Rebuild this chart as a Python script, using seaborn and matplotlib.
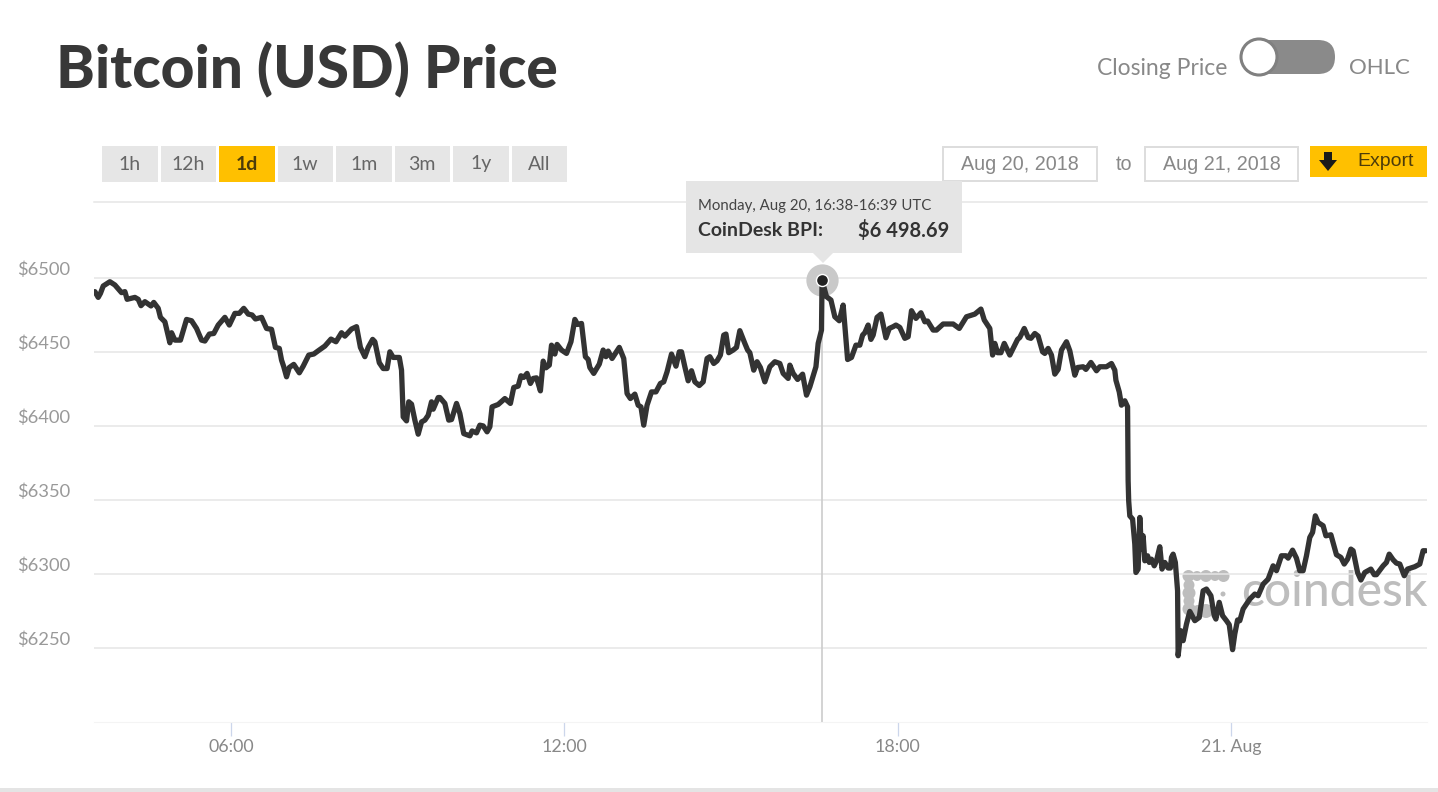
import matplotlib
matplotlib.use("Agg")
import matplotlib.pyplot as plt
from matplotlib.patches import Rectangle, Circle, FancyBboxPatch, Polygon
import seaborn as sns

# time is hours since 20 Aug 00:00 UTC, price is USD
hours_night = [3.55, 3.61, 3.65, 3.70, 3.82, 3.91, 4.03, 4.09, 4.13, 4.27, 4.33, 4.38, 4.45, 4.56, 4.61, 4.69,
               4.73, 4.81, 4.90, 4.93, 4.99, 5.09, 5.20, 5.29, 5.38, 5.47, 5.53, 5.61, 5.69, 5.77, 5.89, 5.97,
               6.07, 6.15, 6.23, 6.31, 6.38, 6.44, 6.55, 6.64, 6.73, 6.80, 6.87, 6.91, 6.95, 7.00, 7.05, 7.13,
               7.23, 7.30, 7.40, 7.49, 7.57, 7.69, 7.80, 7.89, 7.99, 8.05, 8.17, 8.26, 8.33, 8.41, 8.47, 8.55,
               8.59, 8.67, 8.74, 8.81, 8.86, 8.92, 9.03, 9.07, 9.10, 9.16, 9.20, 9.25, 9.31, 9.37, 9.43, 9.49,
               9.55, 9.61, 9.64, 9.73]
price_night = [6491, 6487.1, 6489.8, 6494.8, 6497.7, 6495.5, 6490.3, 6491, 6485.8, 6487.1, 6485.8, 6481.5, 6484.2,
               6481.3, 6483.7, 6479.7, 6473.6, 6470.6, 6456.4, 6463.2, 6458.2, 6458.2, 6472.2, 6471.3, 6466.1,
               6458.2, 6457.6, 6462.3, 6462.7, 6468.4, 6473.6, 6468.4, 6476.3, 6476.3, 6479.7, 6475.8, 6475.2,
               6472.5, 6473.6, 6466.1, 6465.5, 6453.3, 6452.6, 6444.7, 6440.2, 6433.4, 6439.7, 6441.8, 6436.1,
               6440.6, 6448.1, 6448.8, 6451, 6454.2, 6458.9, 6457.1, 6463.2, 6460.9, 6465.7, 6467.3, 6453.3, 6447,
               6453.3, 6458.7, 6457.1, 6442.9, 6439, 6439, 6450.3, 6446.5, 6446.5, 6437.9, 6406.3, 6403.6, 6416.5,
               6414.9, 6404.1, 6394.6, 6402.9, 6404.1, 6407.4, 6416.5, 6411.5, 6419.4]

hours_day = [9.76, 9.85, 9.92, 9.97, 10.06, 10.12, 10.19, 10.30, 10.34, 10.42, 10.48, 10.54, 10.61, 10.66, 10.70,
             10.81, 10.93, 11.03, 11.09, 11.17, 11.22, 11.27, 11.33, 11.39, 11.44, 11.50, 11.57, 11.62, 11.67, 11.73,
             11.77, 11.83, 11.87, 11.95, 12.04, 12.12, 12.19, 12.24, 12.31, 12.38, 12.43, 12.46, 12.53, 12.63, 12.70,
             12.75, 12.79, 12.86, 12.99, 13.07, 13.13, 13.19, 13.27, 13.33, 13.38, 13.43, 13.49, 13.57, 13.65, 13.73,
             13.79, 13.85, 13.93, 14.01, 14.07, 14.11, 14.17, 14.23, 14.29, 14.35, 14.43, 14.50, 14.57, 14.62, 14.69,
             14.75, 14.81, 14.87, 14.91, 14.96, 15.04, 15.10, 15.16, 15.25, 15.30, 15.34, 15.41, 15.47, 15.53, 15.61,
             15.70, 15.79, 15.88, 15.94, 16.03]
price_day = [6419.4, 6415.4, 6404.1, 6404.5, 6415.4, 6408.6, 6395, 6393.5, 6396.8, 6395.5, 6400.7, 6400.2, 6396.2,
             6399.6, 6413.1, 6414.7, 6418.7, 6415.4, 6426.2, 6427.1, 6434.1, 6433, 6435.7, 6428.9, 6432.3, 6432.7,
             6423.9, 6444, 6439.5, 6441.3, 6454.8, 6448.8, 6455.3, 6451.5, 6449.2, 6457.1, 6472.2, 6468.8, 6469.5,
             6447, 6445.1, 6439.7, 6435.7, 6442, 6451.5, 6447, 6450.8, 6445.8, 6453.3, 6445.8, 6422.1, 6418.7, 6421.7,
             6414.2, 6413.1, 6400.7, 6414.2, 6423.2, 6423.2, 6428.9, 6430, 6436.8, 6448.8, 6440.6, 6450.3, 6450.3,
             6440.2, 6430.7, 6437.5, 6430, 6427.5, 6430, 6445.8, 6447, 6442.4, 6444.2, 6448.1, 6461.6, 6462.3, 6449.7,
             6451.5, 6453.3, 6464.6, 6456, 6451.5, 6449.7, 6437.9, 6443.6, 6439.7, 6430, 6440.2, 6443.6, 6442.4,
             6435.7, 6432.3]

hours_evening = [16.06, 16.12, 16.20, 16.29, 16.36, 16.42, 16.53, 16.57, 16.63, 16.64, 16.72, 16.80, 16.87, 16.95,
                 17.02, 17.10, 17.17, 17.25, 17.32, 17.37, 17.41, 17.47, 17.52, 17.56, 17.63, 17.70, 17.79, 17.85,
                 17.92, 17.97, 18.04, 18.13, 18.19, 18.25, 18.33, 18.42, 18.49, 18.54, 18.64, 18.70, 18.82, 19.00,
                 19.11, 19.24, 19.39, 19.50, 19.56, 19.66, 19.71, 19.75, 19.80, 19.86, 19.92, 20.02, 20.10, 20.16,
                 20.20, 20.28, 20.35, 20.40, 20.47, 20.53, 20.61, 20.65, 20.71, 20.77, 20.83, 20.89, 20.95, 21.04,
                 21.10, 21.19, 21.24, 21.34, 21.39, 21.48, 21.58, 21.64, 21.76, 21.85, 21.91, 21.93, 21.99, 22.03,
                 22.09, 22.14]
price_evening = [6441.3, 6435.7, 6431.6, 6435.2, 6421, 6426.6, 6440.2, 6456, 6465, 6498.69, 6487.6, 6485.3, 6474,
                 6471.3, 6481.9, 6445.1, 6446.5, 6454.8, 6454.8, 6461.6, 6463.2, 6468.4, 6458.7, 6461.6, 6473.6,
                 6475.8, 6459.8, 6466.1, 6467.3, 6468.4, 6466.8, 6459.4, 6460.5, 6478.1, 6472.9, 6476.7, 6470.6,
                 6471.1, 6465, 6465, 6469.1, 6469.1, 6466.1, 6474, 6475.8, 6479.2, 6471.8, 6466.1, 6448.1, 6456,
                 6449.7, 6449.7, 6456, 6448.1, 6454.2, 6458.7, 6460, 6466.1, 6460, 6459.4, 6462.7, 6460.9, 6450.3,
                 6449.2, 6452.6, 6448.1, 6435.2, 6438.4, 6451.5, 6457.1, 6451, 6434.5, 6439.7, 6440.2, 6438.4,
                 6443.1, 6437.5, 6440.2, 6440.2, 6442.4, 6437.9, 6431.1, 6423.2, 6414.2, 6417.2, 6413.1]

hours_late = [22.15, 22.16, 22.18, 22.23, 22.27, 22.29, 22.33, 22.36, 22.39, 22.42, 22.45, 22.50, 22.53, 22.57, 22.62,
              22.66, 22.72, 22.76, 22.81, 22.87, 22.91, 22.93, 22.96, 23.00, 23.04, 23.05, 23.10, 23.14, 23.20, 23.26,
              23.35, 23.43, 23.50, 23.56, 23.64, 23.70, 23.73, 23.79, 23.85, 23.92, 23.97, 24.03, 24.07, 24.12, 24.16,
              24.22, 24.34, 24.43, 24.49, 24.58, 24.67, 24.76, 24.82, 24.91, 24.99, 25.03, 25.11, 25.18, 25.24, 25.30,
              25.36, 25.42, 25.47, 25.52, 25.57, 25.66, 25.71, 25.80, 25.90, 25.98, 26.04, 26.10, 26.16, 26.20, 26.28,
              26.34, 26.41, 26.52, 26.58, 26.62, 26.74, 26.80, 26.85, 26.92, 26.98, 27.04, 27.12, 27.18, 27.31, 27.40,
              27.46, 27.51]
price_late = [6363.1, 6349.5, 6339.4, 6337.2, 6320.3, 6301.1, 6303.4, 6338.3, 6316.9, 6325.9, 6309, 6312.4, 6307.9,
              6310.1, 6305.6, 6309, 6318.5, 6303.4, 6307.9, 6304.1, 6304.1, 6311.3, 6313.5, 6307.9, 6288.7, 6244.8,
              6261.7, 6255, 6266.2, 6274.8, 6268.5, 6270.7, 6288.7, 6289.9, 6285.4, 6271.9, 6269.6, 6280.9, 6271.9,
              6268.5, 6265.8, 6248.9, 6259.5, 6269, 6268.5, 6276.4, 6283.1, 6286.5, 6285.4, 6293.2, 6296.6, 6305.6,
              6302.3, 6312.4, 6312.4, 6310.8, 6316.2, 6310.8, 6302.3, 6302.3, 6312.4, 6324.8, 6328.2, 6339.4, 6334.9,
              6332.7, 6325.9, 6326.6, 6313.1, 6311.3, 6306.8, 6310.1, 6316.9, 6315.8, 6301.1, 6296, 6301.1, 6303.4,
              6299.6, 6299.6, 6305.6, 6307.9, 6313.5, 6309.7, 6307.4, 6306.8, 6298.9, 6303.4, 6305, 6306.8, 6315.8,
              6315.8]

peak_hour = 16.64
peak_price = 6498.69

y_ticks = [6250, 6300, 6350, 6400, 6450, 6500]
y_labels = ["$6250", "$6300", "$6350", "$6400", "$6450", "$6500"]
x_ticks = [6, 12, 18, 24]
x_labels = ["06:00", "12:00", "18:00", "21. Aug"]
ranges = ["1h", "12h", "1d", "1w", "1m", "3m", "1y", "All"]

W, H = 1438, 792
DARK = "#333333"
AMBER = "#ffc000"
BTN = "#e6e6e6"
MARK = "#bdbdbd"

sns.set_theme(style="white")
plt.rcParams["font.family"] = ["Lato", "DejaVu Sans"]

fig = plt.figure(figsize=(W / 100, H / 100), dpi=100, facecolor="white")


def pixel_axes(z):
    # full figure layer in screen pixels, for the page furniture around the chart
    a = fig.add_axes([0, 0, 1, 1], zorder=z)
    a.set_xlim(0, W)
    a.set_ylim(H, 0)
    a.axis("off")
    return a


under = pixel_axes(0)
over = pixel_axes(2)

ax = fig.add_axes([94 / W, 1 - 722 / H, (1427 - 94) / W, (722 - 201.7) / H], zorder=1)
ax.patch.set_visible(False)

# coindesk watermark goes behind the line
for cx, cy, r in [(1188.5, 576, 6), (1197, 576, 5), (1206, 576, 6), (1215, 576, 5), (1223.5, 576, 6),
                  (1189, 585, 5.5), (1189, 593, 6.5), (1189, 601, 5.5), (1189, 609, 6.5),
                  (1198, 611, 6), (1206, 611, 7), (1223, 594, 2.5)]:
    under.add_patch(Circle((cx, cy), r, color=MARK, lw=0))
under.text(1334, 592, "coindesk", color=MARK, fontsize=34.5, fontweight="medium", ha="center", va="center")

hours = hours_night + hours_day + hours_evening + hours_late
prices = price_night + price_day + price_evening + price_late

ax.axvline(peak_hour, color="#cccccc", lw=1.2, zorder=1, ymax=0.86)
sns.lineplot(x=hours, y=prices, ax=ax, color=DARK, lw=3.8, estimator=None, sort=False, zorder=3,
             solid_joinstyle="round", solid_capstyle="round")
ax.scatter([peak_hour], [peak_price], s=540, color="#c9c9c9", lw=0, zorder=2)
ax.scatter([peak_hour], [peak_price], s=75, color="#222222", edgecolor="white", lw=1, zorder=4)

ax.set_xlim(3.534, 27.53)
ax.set_ylim(6200, 6551.8)
ax.set_xticks(x_ticks)
ax.set_xticklabels(x_labels)
ax.set_yticks(y_ticks)
ax.set_yticklabels(y_labels, va="bottom")
ax.set_xlabel("")
ax.set_ylabel("")
ax.grid(axis="y", color="#e6e6e6", lw=1.1)
ax.tick_params(axis="y", length=0, pad=17, labelsize=13.2, labelcolor="#999999")
ax.tick_params(axis="x", bottom=True, length=10, width=0.9, color="#ccd6eb", pad=2, labelsize=12.8,
               labelcolor="#888888")
for side in ["left", "right"]:
    ax.spines[side].set_visible(False)
ax.spines["top"].set_color("#e6e6e6")
ax.spines["top"].set_linewidth(1.1)
ax.spines["bottom"].set_color("#f4f4f4")
ax.spines["bottom"].set_linewidth(0.8)

# header
over.text(56, 70, "Bitcoin (USD) Price", color="#383838", fontsize=42.2, fontweight="black", ha="left", va="center")
over.text(1227, 68.5, "Closing Price", color="#888888", fontsize=16.5, ha="right", va="center")
over.text(1410, 68.5, "OHLC", color="#888888", fontsize=16, ha="right", va="center")
over.add_patch(FancyBboxPatch((1241, 40), 94, 34, boxstyle="round,pad=0,rounding_size=17",
                              fc="#8a8a8a", ec="none"))
over.add_patch(Circle((1259, 57), 18, fc="white", ec="#808080", lw=2.2))

# range buttons
for i, name in enumerate(ranges):
    left = 102 + i * 58.5
    active = name == "1d"
    over.add_patch(Rectangle((left, 146), 55.5, 36, fc=AMBER if active else BTN, ec="none"))
    over.text(left + 27.7, 164, name, ha="center", va="center", fontsize=14,
              color="#4d3c0a" if active else "#666666", fontweight="bold" if active else "normal")

# date inputs and export
for left, width, s in [(943, 154, "Aug 20, 2018"), (1145, 153, "Aug 21, 2018")]:
    over.add_patch(Rectangle((left, 147), width, 34, fc="white", ec="#dddddd", lw=1.4))
    over.text(left + width / 2, 164, s, ha="center", va="center", fontsize=14.2, color="#888888",
              family="Liberation Sans")
over.text(1124, 164, "to", ha="center", va="center", fontsize=14.2, color="#888888", family="Liberation Sans")
over.add_patch(Rectangle((1310, 146), 117, 31, fc=AMBER, ec="none"))
over.add_patch(Polygon([(1324, 152), (1332, 152), (1332, 160), (1337, 160), (1328, 171), (1319, 160), (1324, 160)],
                       fc="#1a1a1a", ec="none"))
over.text(1386, 162, "Export", ha="center", va="center", fontsize=14, color="#4d3c0a", family="Liberation Sans")

# tooltip
over.add_patch(Rectangle((686, 181), 276, 72, fc="#e5e5e5", ec="none"))
over.add_patch(Polygon([(813, 253), (833, 253), (823, 263)], fc="#e5e5e5", ec="none"))
over.text(698, 206, "Monday, Aug 20, 16:38-16:39 UTC", ha="left", va="center", fontsize=10.8, color="#444444")
over.text(698, 230, "CoinDesk BPI:", ha="left", va="center", fontsize=14, fontweight="bold", color=DARK)
over.text(949, 230, "$6 498.69", ha="right", va="center", fontsize=14.5, fontweight="bold", color=DARK)

# strip along the page bottom
over.add_patch(Rectangle((0, 788), W, 4, fc="#e4e4e4", ec="none"))

fig.savefig("out.png", dpi=100)
